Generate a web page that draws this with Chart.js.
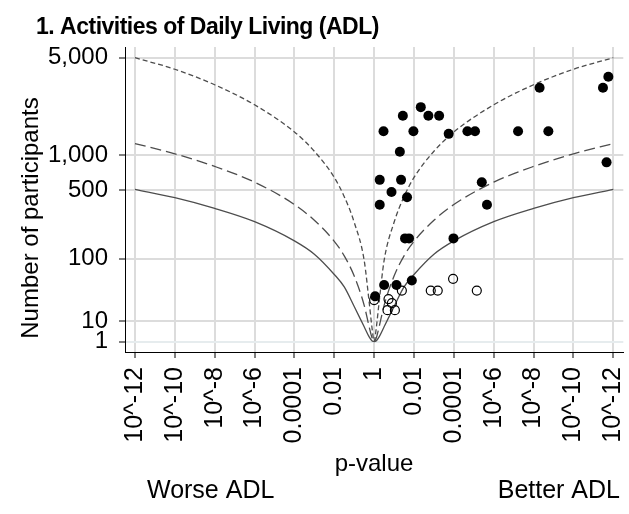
<!DOCTYPE html>
<html>
<head>
<meta charset="utf-8">
<script src="https://cdn.jsdelivr.net/npm/chart.js@4.4.1/dist/chart.umd.min.js"></script>
<style>body{margin:0;background:#fff}</style>
</head>
<body>
<canvas id="albatross" width="629" height="514"></canvas>
<script>
Chart.defaults.font.family = "'Liberation Sans', Arial, sans-serif";
Chart.defaults.color = '#000';

// x is -log10(p), signed: negative = worse ADL, positive = better ADL
const xTicks = [-12, -10, -8, -6, -4, -2, 0, 2, 4, 6, 8, 10, 12];
const xTickLabels = ['10^-12', '10^-10', '10^-8', '10^-6', '0.0001', '0.01', '1',
                     '0.01', '0.0001', '10^-6', '10^-8', '10^-10', '10^-12'];
const yTicks = [1, 10, 100, 500, 1000, 5000];
const yTickLabels = ['1', '10', '100', '500', '1,000', '5,000'];

// studies with known direction (filled) and the rest (open)
const filledX = [0.05, 0.5, 1.12, 1.89, 1.55, 1.75, 3.98, 0.28, 0.87, 1.65, 0.28, 1.35, 5.4, 5.66, 11.66,
                 1.29, 0.47, 1.97, 3.74, 4.68, 5.06, 7.22, 8.74, 1.44, 2.34, 2.72, 3.26, 8.3, 11.48, 11.75];
const filledN = [30, 45, 45, 52, 170, 170, 170, 370, 485, 435, 620, 620, 590, 370, 870,
                 1060, 1530, 1530, 1460, 1530, 1530, 1530, 1530, 1990, 2300, 1990, 1990, 3150, 3150, 3740];
const openX = [0, 0.72, 0.89, 0.67, 1.04, 1.39, 2.84, 3.19, 3.96, 5.15];
const openN = [26, 27, 23, 17, 17, 37, 37, 37, 55, 37];

// effect size contours (participants needed at each p)
const contourX = [-12, -10, -8, -6, -4, -3, -2, -1.5, -1, -0.5, -0.25, -0.1, 0,
                  0.1, 0.25, 0.5, 1, 1.5, 2, 3, 4, 6, 8, 10, 12];
const contourSmall = [5000, 4200, 3300, 2390, 1510, 1070, 650, 440, 250, 95, 24, 6, 1,
                      6, 24, 95, 250, 440, 650, 1070, 1510, 2390, 3300, 4200, 5000];
const contourMedium = [1230, 1020, 805, 592, 372, 262, 158, 108, 60, 21, 7, 2.5, 1,
                       2.5, 7, 21, 60, 108, 158, 262, 372, 592, 805, 1020, 1230];
const contourLarge = [512, 430, 342, 254, 160, 113, 63, 42, 20, 7, 3, 1.5, 1,
                      1.5, 3, 7, 20, 42, 63, 113, 160, 254, 342, 430, 512];

// y axis is spaced on (log10 n)^2
function ySc(n) { return Math.pow(Math.log10(n), 2); }

function pts(xs, ns) {
    return xs.map(function(x, i) { return {x: x, y: ySc(ns[i])}; });
}

function contour(ns, dash) {
    return {
        data: pts(contourX, ns),
        showLine: true,
        pointRadius: 0,
        borderColor: '#4d4d4d',
        borderWidth: 1.3,
        borderDash: dash,
        cubicInterpolationMode: 'monotone',
        fill: false
    };
}

const textPlugin = {
    id: 'texts',
    beforeDraw(chart) {
        const ctx = chart.ctx;
        ctx.save();
        ctx.fillStyle = '#fff';
        ctx.fillRect(0, 0, chart.width, chart.height);
        ctx.restore();
    },
    afterDraw(chart) {
        const ctx = chart.ctx;
        ctx.save();
        ctx.fillStyle = '#000';
        ctx.textBaseline = 'alphabetic';
        ctx.font = "bold 23px 'Liberation Sans', Arial, sans-serif";
        ctx.textAlign = 'left';
        ctx.letterSpacing = '-0.5px';
        ctx.fillText('1. Activities of Daily Living (ADL)', 36, 34);
        ctx.letterSpacing = '0px';
        ctx.font = "24px 'Liberation Sans', Arial, sans-serif";
        ctx.textAlign = 'center';
        ctx.fillText('p-value', 374, 471);
        ctx.font = "25px 'Liberation Sans', Arial, sans-serif";
        ctx.textAlign = 'left';
        ctx.fillText('Worse ADL', 147, 498);
        ctx.textAlign = 'right';
        ctx.fillText('Better ADL', 620, 498);
        ctx.font = "24px 'Liberation Sans', Arial, sans-serif";
        ctx.translate(31, 218);
        ctx.rotate(-Math.PI / 2);
        ctx.textAlign = 'center';
        ctx.textBaseline = 'middle';
        ctx.fillText('Number of participants', 0, 0);
        ctx.restore();
    }
};

const gridColor = function(c) {
    return (c.tick && c.tick.value === 0 && c.scale.axis === 'y') ? '#e6ecee' : '#dcdcdc';
};

new Chart(document.getElementById('albatross'), {
    type: 'scatter',
    data: {
        datasets: [{
            data: pts(filledX, filledN),
            pointRadius: 5,
            pointHoverRadius: 5,
            backgroundColor: '#000',
            borderColor: '#000',
            borderWidth: 0
        }, {
            data: pts(openX, openN),
            pointRadius: 4.5,
            pointHoverRadius: 4.5,
            backgroundColor: 'rgba(0,0,0,0)',
            borderColor: '#000',
            borderWidth: 1.2
        },
        contour(contourSmall, [5, 3]),
        contour(contourMedium, [11, 5]),
        contour(contourLarge, [])]
    },
    options: {
        responsive: false,
        animation: false,
        layout: {padding: {top: 47, right: 4, left: 0, bottom: 0}},
        plugins: {legend: {display: false}, tooltip: {enabled: false}, title: {display: false}},
        scales: {
            x: {
                type: 'linear',
                min: -12.5,
                max: 12.5,
                afterBuildTicks: function(s) { s.ticks = xTicks.map(function(v) { return {value: v}; }); },
                afterFit: function(s) { s.height = 162; s.paddingLeft = 0; s.paddingRight = 0; },
                ticks: {
                    autoSkip: false,
                    minRotation: 90,
                    maxRotation: 90,
                    padding: 9,
                    font: {size: 25},
                    callback: function(v, i) { return xTickLabels[i]; }
                },
                grid: {color: gridColor, lineWidth: 2, tickLength: 6, tickColor: '#000', tickWidth: 1},
                border: {color: '#000', width: 1}
            },
            y: {
                type: 'linear',
                min: -0.5,
                max: 14.2,
                afterBuildTicks: function(s) { s.ticks = yTicks.map(function(n) { return {value: ySc(n)}; }); },
                afterFit: function(s) { s.width = 125; s.paddingTop = 0; s.paddingBottom = 0; },
                ticks: {
                    autoSkip: false,
                    padding: 11,
                    font: {size: 24},
                    callback: function(v, i) { return yTickLabels[i]; }
                },
                grid: {color: gridColor, lineWidth: 2, tickLength: 6, tickColor: '#000', tickWidth: 1},
                border: {color: '#000', width: 1}
            }
        }
    },
    plugins: [textPlugin]
});
</script>
</body>
</html>
